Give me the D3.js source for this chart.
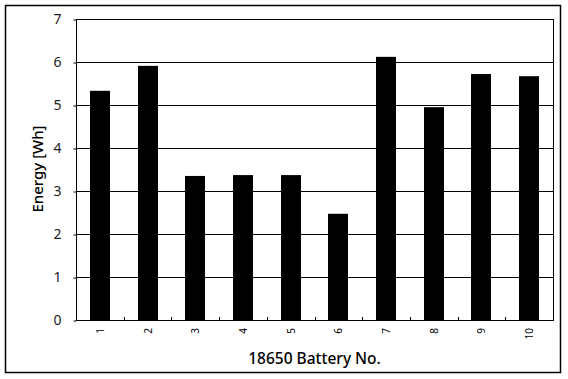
<!DOCTYPE html>
<html lang="en">
<head>
<meta charset="UTF-8">
<title>Battery energy</title>
<script src="https://d3js.org/d3.v7.min.js"></script>
<style>
  body { margin: 0; background: #fff; }
  text { font-family: "Noto Sans", "DejaVu Sans", sans-serif; }
</style>
</head>
<body>
<script>
// data
var batteries = ["1", "2", "3", "4", "5", "6", "7", "8", "9", "10"];
var energy = [5.33, 5.91, 3.35, 3.37, 3.37, 2.47, 6.12, 4.95, 5.72, 5.67];
var yTicks = [0, 1, 2, 3, 4, 5, 6, 7];

var W = 568, H = 379;
var mLeft = 76, mRight = 553, mTop = 19, mBottom = 320;

var svg = d3.select("body").append("svg")
    .attr("width", W)
    .attr("height", H);

// outer frame
svg.append("rect")
    .attr("x", 5.5).attr("y", 5.5)
    .attr("width", 555).attr("height", 367)
    .attr("fill", "none")
    .attr("stroke", "#000")
    .attr("stroke-width", 1.5);

var x = d3.scaleBand().domain(batteries).range([mLeft, mRight]).paddingInner(0).paddingOuter(0);
var y = d3.scaleLinear().domain([0, 7]).range([mBottom, mTop]);

// gridlines
svg.append("g").selectAll("line")
    .data(yTicks.filter(function(d) { return d > 0; }))
    .enter().append("line")
    .attr("x1", mLeft).attr("x2", mRight)
    .attr("y1", function(d) { return Math.round(y(d)) + 0.5; })
    .attr("y2", function(d) { return Math.round(y(d)) + 0.5; })
    .attr("stroke", "#000")
    .attr("stroke-width", 1);

// bars
var bw = 20;
svg.append("g").selectAll("rect")
    .data(energy)
    .enter().append("rect")
    .attr("x", function(d, i) { return Math.round(x(batteries[i]) + x.bandwidth() / 2 - bw / 2); })
    .attr("y", function(d) { return y(d); })
    .attr("width", bw)
    .attr("height", function(d) { return mBottom - y(d); })
    .attr("fill", "#000");

// plot border
svg.append("rect")
    .attr("x", mLeft + 0.5).attr("y", mTop + 0.5)
    .attr("width", mRight - mLeft).attr("height", mBottom - mTop)
    .attr("fill", "none")
    .attr("stroke", "#000")
    .attr("stroke-width", 1);

// y axis
var yAxis = d3.axisLeft(y).tickValues(yTicks).tickFormat(d3.format("d")).tickSize(3).tickPadding(12);
var gy = svg.append("g").attr("transform", "translate(" + (mLeft + 0.5) + ",0.5)").call(yAxis);
gy.select(".domain").remove();
gy.selectAll("text")
    .attr("font-size", 14)
    .attr("fill", "#222")
    .style("font-family", "'Noto Sans', sans-serif");

// x ticks at category boundaries, pointing up inside
svg.append("g").selectAll("line")
    .data(batteries.slice(1))
    .enter().append("line")
    .attr("x1", function(d) { return Math.round(x(d)) + 0.5; })
    .attr("x2", function(d) { return Math.round(x(d)) + 0.5; })
    .attr("y1", mBottom).attr("y2", mBottom - 3)
    .attr("stroke", "#000");

// x tick labels, rotated
svg.append("g").selectAll("text")
    .data(batteries)
    .enter().append("text")
    .attr("transform", function(d) {
        return "translate(" + (x(d) + x.bandwidth() / 2 + 4) + "," + (mBottom + 8) + ") rotate(-90)";
    })
    .attr("text-anchor", "end")
    .attr("font-size", 10)
    .attr("fill", "#000")
    .text(function(d) { return d; });

// axis titles
svg.append("text")
    .attr("x", (mLeft + mRight) / 2).attr("y", 364)
    .attr("text-anchor", "middle")
    .attr("font-size", 15.5)
    .attr("font-weight", 500)
    .text("18650 Battery No.");

svg.append("text")
    .attr("transform", "translate(43,169) rotate(-90)")
    .attr("text-anchor", "middle")
    .attr("font-size", 15)
    .attr("font-weight", 500)
    .text("Energy [Wh]");
</script>
</body>
</html>
